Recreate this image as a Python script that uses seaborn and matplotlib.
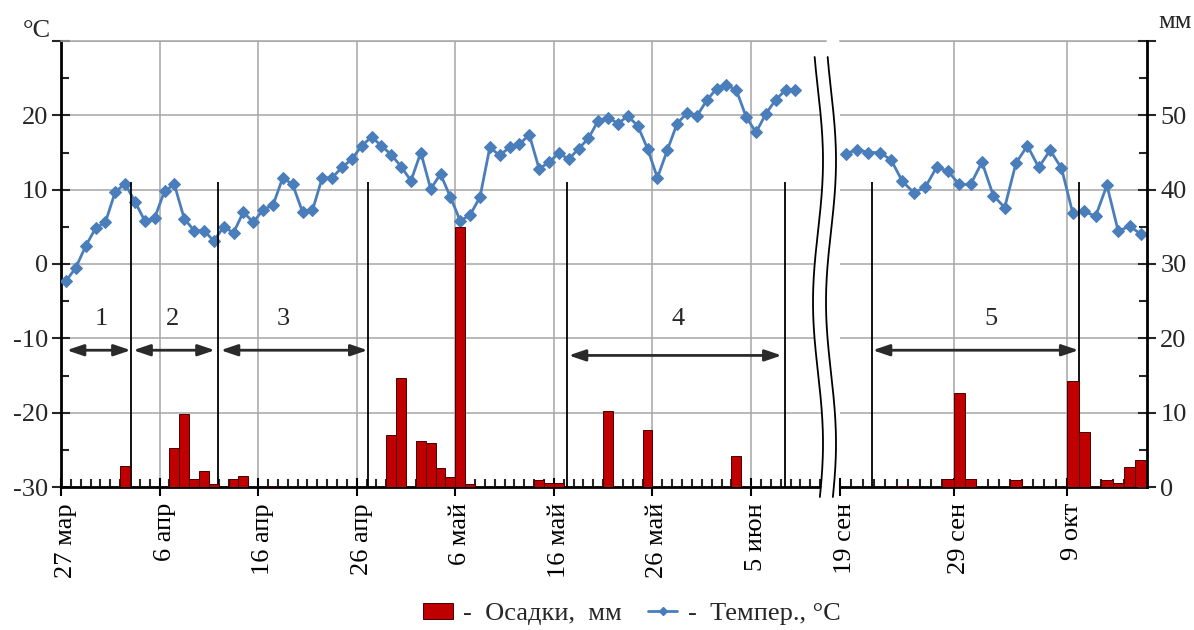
import numpy as np
import pandas as pd
import matplotlib
matplotlib.use("Agg")
import matplotlib.pyplot as plt
import matplotlib.transforms as mtrans
import seaborn as sns
from matplotlib.patches import Patch
from matplotlib.lines import Line2D
from matplotlib.ticker import MultipleLocator, FixedLocator, FuncFormatter

sns.set_style("white")
plt.rcParams["font.family"] = ["Liberation Serif", "DejaVu Serif"]
plt.rcParams["axes.unicode_minus"] = False

# ---- spring / early summer: daily values starting 27 March ----
spring_temp = [
    -2.3, -0.5, 2.4, 4.8, 5.6, 9.7, 10.8, 8.4, 5.8, 6.2,
    9.8, 10.7, 6.1, 4.5, 4.5, 3.1, 5.0, 4.2, 7.0, 5.6,
    7.3, 7.9, 11.6, 10.7, 7.0, 7.2, 11.6, 11.6, 13.0, 14.1,
    15.9, 17.1, 15.9, 14.7, 13.1, 11.2, 15.0, 10.1, 12.1, 9.0,
    5.8, 6.6, 9.0, 15.7, 14.6, 15.7, 16.1, 17.4, 12.8, 13.7,
    14.9, 14.1, 15.5, 16.9, 19.3, 19.7, 18.9, 19.9, 18.6, 15.5,
    11.6, 15.3, 18.9, 20.3, 19.9, 22.0, 23.6, 24.1, 23.4, 19.8,
    17.7, 20.2, 22.1, 23.4, 23.4,
]
spring_prec = [
    0, 0, 0, 0, 0, 0, 2.8, 0, 0, 0,
    0, 5.2, 9.8, 1.1, 2.1, 0.45, 0, 1.1, 1.5, 0,
    0, 0.15, 0, 0, 0, 0, 0, 0, 0, 0,
    0, 0, 0, 7.0, 14.6, 0, 6.2, 5.9, 2.6, 1.3,
    35.0, 0.45, 0, 0, 0, 0, 0, 0, 1.0, 0.5,
    0.5, 0, 0, 0, 0, 10.2, 0, 0, 0, 7.7,
    0, 0, 0, 0, 0, 0, 0, 0, 4.2, 0,
    0, 0, 0, 0, 0,
]
spring_tick_days = [0, 10, 20, 30, 40, 50, 60, 70]
spring_tick_labels = ["27 мар", "6 апр", "16 апр", "26 апр",
                      "6 май", "16 май", "26 май", "5 июн"]

# ---- autumn: daily values starting 19 September ----
autumn_temp = [
    14.8, 15.4, 15.0, 15.0, 14.0, 11.1, 9.6, 10.3, 13.0, 12.5,
    10.7, 10.7, 13.7, 9.2, 7.6, 13.6, 15.9, 13.0, 15.3, 12.9,
    6.8, 7.1, 6.4, 10.6, 4.4, 5.1, 4.0,
]
autumn_prec = [
    0, 0, 0, 0, 0, 0.1, 0, 0, 0, 1.1,
    12.6, 1.1, 0, 0, 0, 0.9, 0, 0, 0, 0,
    14.2, 7.4, 0.15, 1.0, 0.5, 2.65, 3.6,
]
autumn_tick_days = [0, 10, 20]
autumn_tick_labels = ["19 сен", "29 сен", "9 окт"]

# period boundaries (day offsets) and period arrows: (start, end, label, label_x)
spring_bounds = [7.05, 15.95, 31.15, 51.3, 73.4]
autumn_bounds = [2.8, 21.0]
spring_periods = [(0.58, 7.07, "1", 4.1, -11.6), (7.33, 15.6, "2", 11.3, -11.6),
                  (16.2, 31.1, "3", 22.5, -11.6), (51.5, 73.1, "4", 62.6, -12.3)]
autumn_periods = [(2.88, 21.0, "5", 13.3, -11.6)]

BLUE = "#4A7EBB"
RED = "#C00000"
EDGE = "#4A0000"
GRID = "#A6A6A6"
FS = 19

W, H = 1194, 630
fig = plt.figure(figsize=(W / 100, H / 100), dpi=100)

y_top, y_bot = 41, 487
ax_s = fig.add_axes([61 / W, (H - y_bot) / H, (826 - 61) / W, (y_bot - y_top) / H])
ax_a = fig.add_axes([840 / W, (H - y_bot) / H, (1147 - 840) / W, (y_bot - y_top) / H])


def draw_segment(ax_t, temp, prec, xmax, tick_days, tick_labels, bounds, periods):
    ax_p = ax_t.twinx()
    days = np.arange(len(temp)) + 0.5
    df = pd.DataFrame({"day": days, "temp": temp, "prec": prec})

    sns.lineplot(data=df, x="day", y="temp", ax=ax_t, color=BLUE, lw=2,
                 marker="D", markersize=6, markeredgecolor=BLUE, zorder=3)
    sns.barplot(data=df, x="day", y="prec", ax=ax_p, native_scale=True,
                width=1.0, color=RED, saturation=1, edgecolor=EDGE,
                linewidth=0.7, zorder=2)
    for p in ax_p.patches:
        if p.get_height() == 0:
            p.set_linewidth(0)

    ax_t.set_xlim(0, xmax)
    ax_t.set_ylim(-30, 30)
    ax_p.set_ylim(0, 60)
    ax_t.set_xlabel("")
    ax_t.set_ylabel("")
    ax_p.set_ylabel("")

    # x axis: 10-day labelled ticks, daily minor ticks
    ax_t.xaxis.set_major_locator(FixedLocator(tick_days))
    ax_t.set_xticklabels(tick_labels, rotation=90, fontsize=FS)
    ax_t.xaxis.set_minor_locator(MultipleLocator(1))
    ax_t.tick_params(axis="x", which="major", direction="inout", length=13,
                     width=1.5, pad=5, bottom=True, colors="black")
    ax_t.tick_params(axis="x", which="minor", direction="in", length=6,
                     width=1.5, bottom=True)
    shift = mtrans.ScaledTranslation(0.05, 0, fig.dpi_scale_trans)
    for lab in ax_t.get_xticklabels():
        lab.set_transform(lab.get_transform() + shift)

    # grid
    ax_t.yaxis.set_major_locator(MultipleLocator(10))
    ax_t.grid(True, axis="both", which="major", color=GRID, lw=1.1)
    ax_t.xaxis.get_major_ticks()[0].gridline.set_visible(False)
    ax_t.set_axisbelow(True)

    for s in ax_p.spines.values():
        s.set_visible(False)
    ax_t.spines["top"].set_color(GRID)
    ax_t.spines["top"].set_linewidth(1.1)
    ax_t.spines["right"].set_visible(False)
    ax_t.spines["bottom"].set_color("black")
    ax_t.spines["bottom"].set_linewidth(2)

    # period boundaries, arrows and numbers
    ax_t.vlines(bounds, -30, 11, color="black", lw=1.3, zorder=4)
    for x0, x1, lab, lx, ay in periods:
        ax_t.annotate("", xy=(x1, ay), xytext=(x0, ay),
                      arrowprops=dict(arrowstyle="<|-|>,head_length=0.5,head_width=0.17",
                                      color="#2a2a2a", lw=2, mutation_scale=20,
                                      shrinkA=0, shrinkB=0), zorder=5)
        ax_t.text(lx, -7.4, lab, ha="center", va="center", fontsize=FS)
    return ax_p


ax_sp = draw_segment(ax_s, spring_temp, spring_prec, 77.6, spring_tick_days,
                     spring_tick_labels, spring_bounds, spring_periods)
ax_ap = draw_segment(ax_a, autumn_temp, autumn_prec, 27.03, autumn_tick_days,
                     autumn_tick_labels, autumn_bounds, autumn_periods)

# left temperature axis
fmt_t = FuncFormatter(lambda v, pos: "" if v > 25 else f"{v:.0f}")
ax_s.yaxis.set_major_formatter(fmt_t)
ax_s.yaxis.set_minor_locator(MultipleLocator(5))
ax_s.tick_params(axis="y", which="major", direction="inout", length=13, width=1.5,
                 labelsize=FS, pad=3, left=True)
ax_s.tick_params(axis="y", which="minor", direction="in", length=6, width=1.5, left=True)
ax_s.spines["left"].set_color("black")
ax_s.spines["left"].set_linewidth(2)
ax_sp.tick_params(axis="y", right=False, labelright=False)

# autumn panel: no left axis, precipitation axis on the right
ax_a.spines["left"].set_visible(False)
ax_a.tick_params(axis="y", which="both", left=False, labelleft=False)
ax_ap.spines["right"].set_visible(True)
ax_ap.spines["right"].set_color("black")
ax_ap.spines["right"].set_linewidth(2)
ax_ap.yaxis.set_major_locator(MultipleLocator(10))
ax_ap.yaxis.set_minor_locator(MultipleLocator(5))
ax_ap.yaxis.set_major_formatter(FuncFormatter(lambda v, pos: "" if v > 55 else f"{v:.0f}"))
ax_ap.tick_params(axis="y", which="major", direction="inout", length=13, width=1.5,
                  labelsize=FS, pad=3, right=True)
ax_ap.tick_params(axis="y", which="minor", direction="in", length=6, width=1.5, right=True)

# overlay in pixel units: axis break and unit captions
ov = fig.add_axes([0, 0, 1, 1])
ov.set_xlim(0, W)
ov.set_ylim(H, 0)
ov.axis("off")
ys = np.linspace(57, 497, 200)
xl = 818 + 5 * np.sin((ys - 90) / 45.0)
xr = xl + 13
ov.fill_betweenx(ys, xl, xr, color="white", lw=0)
ov.plot(xl, ys, color="black", lw=1.3)
ov.plot(xr, ys, color="black", lw=1.3)
ov.text(37, 37, "°C", ha="center", va="baseline", fontsize=FS)
ov.text(1175, 28, "мм", ha="center", va="baseline", fontsize=FS)

handles = [Patch(facecolor=RED, edgecolor=EDGE, lw=0.7),
           Line2D([], [], color=BLUE, lw=2, marker="D", markersize=4)]
labels = ["-  Осадки,  мм", "-  Темпер., °C"]
fig.legend(handles, labels, loc="center", bbox_to_anchor=(632 / W, 1 - 614 / H),
           ncol=2, frameon=False, fontsize=FS, handlelength=1.1, handleheight=0.6,
           handletextpad=0.4, columnspacing=1.0)

fig.savefig("out.png", dpi=100)
